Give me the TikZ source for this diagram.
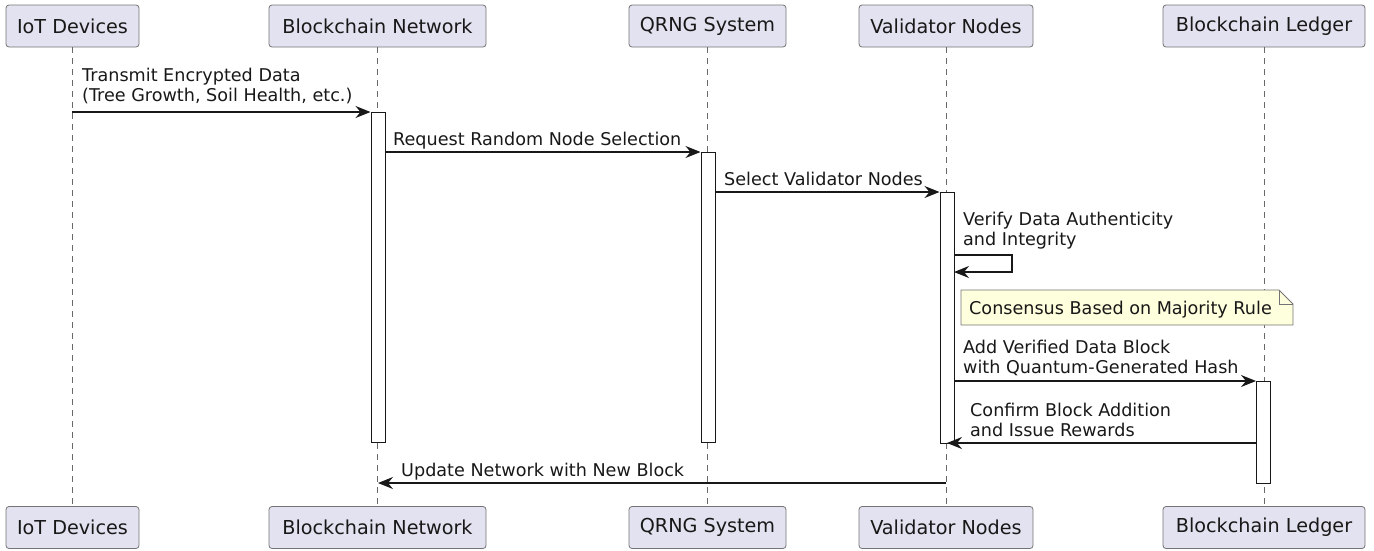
\documentclass[tikz,border=0pt]{standalone}
\usepackage{fontspec}
\setmainfont{DejaVu Sans}
\usetikzlibrary{arrows.meta}
\definecolor{partfill}{HTML}{E2E2F0}
\definecolor{linec}{HTML}{181818}
\definecolor{notefill}{HTML}{FEFFDD}
\begin{document}
\begin{tikzpicture}[x=1pt,y=-1pt,
  part/.style={draw=linec!60, fill=partfill, rounded corners=3pt, line width=0.8pt,
    minimum height=42pt, inner sep=0pt, font=\fontsize{19.2}{22}\selectfont, text=linec},
  life/.style={draw=linec!65, line width=0.7pt, dash pattern=on 5.5pt off 5.5pt},
  actbar/.style={draw=linec, fill=white, line width=1pt, minimum width=14pt, inner sep=0pt, anchor=north},
  msg/.style={draw=linec, line width=1.2pt, -{Stealth[length=15pt,width=12pt,inset=5pt]}},
  selfmsg/.style={draw=linec, line width=1.2pt, -{Stealth[length=15pt,width=12pt,inset=5pt]}},
  lbl/.style={font=\fontsize{17.6}{20.5}\selectfont, text=linec, align=left, inner sep=0pt,
    text depth=0pt, anchor=south west},
  notebox/.style={draw=linec!60, fill=notefill, line width=0.8pt}]

\useasboundingbox (0,0) rectangle (1374,550);

% participants top
\node[part, minimum width=133pt] (iotT) at (72.5,26) {IoT Devices};
\node[part, minimum width=217pt] (bnT) at (377.5,26) {Blockchain Network};
\node[part, minimum width=157pt] (qrT) at (707.5,26) {QRNG System};
\node[part, minimum width=174pt] (vnT) at (946,26) {Validator Nodes};
\node[part, minimum width=202pt] (blT) at (1264,26) {Blockchain Ledger};
% participants bottom
\node[part, minimum width=133pt] (iotB) at (72.5,527.5) {IoT Devices};
\node[part, minimum width=217pt] (bnB) at (377.5,527.5) {Blockchain Network};
\node[part, minimum width=157pt] (qrB) at (707.5,527.5) {QRNG System};
\node[part, minimum width=174pt] (vnB) at (946,527.5) {Validator Nodes};
\node[part, minimum width=202pt] (blB) at (1264,527.5) {Blockchain Ledger};

% lifelines
\draw[life] (iotT.south) -- (iotB.north);
\draw[life] (bnT.south) -- (bnB.north);
\draw[life] (qrT.south) -- (qrB.north);
\draw[life] (vnT.south) -- (vnB.north);
\draw[life] (blT.south) -- (blB.north);

% activation bars
\node[actbar, minimum height=330pt] (actBN) at (378,112) {};
\node[actbar, minimum height=290pt] (actQR) at (708,152) {};
\node[actbar, minimum height=251pt] (actVN) at (947,192) {};
\node[actbar, minimum height=102pt] (actBL) at (1263.5,381) {};

% message endpoints
\coordinate (m1s) at (72,112);
\coordinate (m2s) at (385,152);
\coordinate (m3s) at (715,192);
\coordinate (s1) at (954,255);
\coordinate (s2) at (1012,255);
\coordinate (s3) at (1012,272);
\coordinate (s4) at (954,272);
\coordinate (m6s) at (954,381);
\coordinate (m7s) at (1256.5,443);
\coordinate (m7e) at (947,443);
\coordinate (m8s) at (946,483);
\coordinate (m8e) at (378,483);

% messages
\draw[msg] (m1s) -- (actBN.north west);
\draw[msg] (m2s) -- (actQR.north west);
\draw[msg] (m3s) -- (actVN.north west);
\draw[selfmsg] (s1) -- (s2) -- (s3) -- (s4);
\draw[msg] (m6s) -- (actBL.north west);
\draw[msg] (m7s) -- (m7e);
\draw[msg] (m8s) -- (m8e);

% labels
\node[lbl] (l1) at (82,102) {Transmit Encrypted Data\\(Tree Growth, Soil Health, etc.)};
\node[lbl] (l2) at (393,146) {Request Random Node Selection};
\node[lbl] (l3) at (724,186) {Select Validator Nodes};
\node[lbl] (l4) at (963,246) {Verify Data Authenticity\\and Integrity};
\node[lbl] (l6) at (963,374) {Add Verified Data Block\\with Quantum-Generated Hash};
\node[lbl] (l7) at (970,437) {Confirm Block Addition\\and Issue Rewards};
\node[lbl] (l8) at (401,477) {Update Network with New Block};

% note
\draw[notebox] (961,290) -- (1279,290) -- (1293,304) -- (1293,325) -- (961,325) -- cycle;
\draw[draw=linec!60, line width=0.8pt] (1279,290) -- (1279,304) -- (1293,304);
\node[lbl] (note) at (969,315) {Consensus Based on Majority Rule};
\end{tikzpicture}
\end{document}
